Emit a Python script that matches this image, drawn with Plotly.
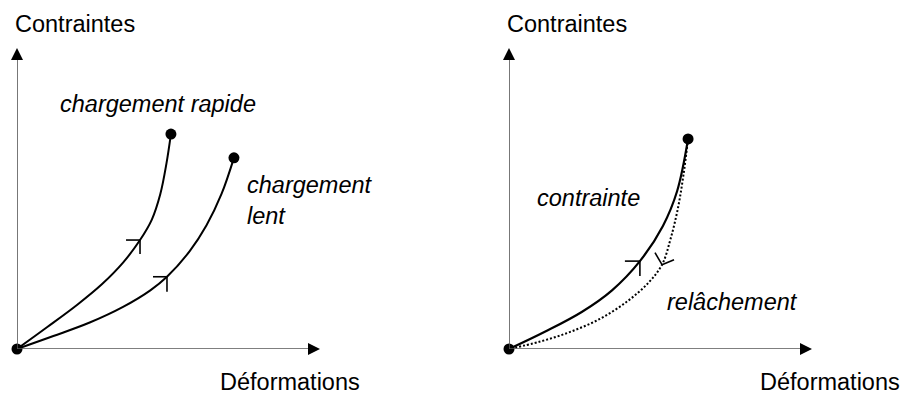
import plotly.graph_objects as go

# ---- data (deformation, stress) in arbitrary units, axes run 0..100 ----
# left panel: fast vs slow loading
rapide_def = [0, 10, 20, 28, 35, 40.6, 44.5, 47.3, 49.3, 50.8]
rapide_con = [0, 7.3, 14.8, 21.5, 28.7, 36.2, 43.0, 51.5, 61.5, 71.4]

lent_def = [0, 12, 24, 35, 44, 49.5, 57, 62.5, 67.5, 71.6]
lent_con = [0, 4.3, 8.8, 14.0, 19.5, 24.0, 32.5, 41.0, 51.5, 63.5]

# right panel: loading then relaxation back to the origin
charge_def = [0, 12, 24, 34, 43.2, 50.8, 55.5, 59.1]
charge_con = [0, 5.8, 12.3, 19.5, 29.2, 40.9, 52.5, 69.8]

relache_def = [59.1, 57.6, 55.8, 53.3, 50.5, 46, 39, 30, 20, 10, 0]
relache_con = [69.8, 58.0, 47.0, 36.5, 28.0, 22.0, 15.8, 10.0, 5.6, 2.4, 0]

# index of the curve point carrying the direction arrow
idx_rapide, idx_lent, idx_charge, idx_relache = 5, 5, 4, 4

W, H = 904, 399
FONT = "Liberation Sans, Arial, sans-serif"
FS = 23.5

# panel geometry (pixels)
Y0, YTOP = 349, 48
LEFT0, RIGHT0, XLEN = 17, 509, 303
SX = XLEN / 100.0          # px per unit, x
SY = (Y0 - YTOP) / 100.0   # px per unit, y

fig = go.Figure()

def curve(x, y, xa, ya, dash="solid", width=2.0):
    fig.add_trace(go.Scatter(x=x, y=y, mode="lines", xaxis=xa, yaxis=ya,
                             line=dict(color="black", width=width, dash=dash,
                                       shape="spline", smoothing=1.0),
                             cliponaxis=False, hoverinfo="skip"))

def barbs(x0, y0, offsets, xa, ya):
    # open arrowhead: two short strokes from the tip, offsets in pixels
    for (dx, dy) in offsets:
        fig.add_trace(go.Scatter(x=[x0, x0 + dx / SX], y=[y0, y0 - dy / SY],
                                 mode="lines", xaxis=xa, yaxis=ya,
                                 line=dict(color="black", width=1.6),
                                 cliponaxis=False, hoverinfo="skip"))

def dots(x, y, xa, ya):
    fig.add_trace(go.Scatter(x=x, y=y, mode="markers", xaxis=xa, yaxis=ya,
                             marker=dict(color="black", size=11),
                             cliponaxis=False, hoverinfo="skip"))

# left panel curves
curve(rapide_def, rapide_con, "x", "y")
curve(lent_def, lent_con, "x", "y")
barbs(rapide_def[idx_rapide], rapide_con[idx_rapide], [(-14, 0), (0, 14)], "x", "y")
barbs(lent_def[idx_lent], lent_con[idx_lent], [(-14, 0), (0, 15)], "x", "y")
dots([0, rapide_def[-1], lent_def[-1]], [0, rapide_con[-1], lent_con[-1]], "x", "y")

# right panel curves
curve(charge_def, charge_con, "x2", "y2", width=2.2)
curve(relache_def, relache_con, "x2", "y2", dash="2px,2px", width=2.0)
barbs(charge_def[idx_charge], charge_con[idx_charge], [(-15, 0), (0, 15)], "x2", "y2")
barbs(relache_def[idx_relache], relache_con[idx_relache],
      [(-7, -12), (12, -5)], "x2", "y2")
dots([0, charge_def[-1]], [0, charge_con[-1]], "x2", "y2")

# axes with arrowheads
for xa, ya in (("x", "y"), ("x2", "y2")):
    fig.add_shape(type="line", xref=xa, yref=ya, x0=0, y0=0, x1=97, y1=0,
                  line=dict(color="#555555", width=1.6))
    fig.add_shape(type="line", xref=xa, yref=ya, x0=0, y0=0, x1=0, y1=97,
                  line=dict(color="#555555", width=1.6))
    fig.add_annotation(x=100, y=0, xref=xa, yref=ya, ax=-6, ay=0, text="",
                       showarrow=True, arrowhead=2, arrowsize=1.6,
                       arrowwidth=1.5, arrowcolor="black", standoff=0)
    fig.add_annotation(x=0, y=100, xref=xa, yref=ya, ax=0, ay=6, text="",
                       showarrow=True, arrowhead=2, arrowsize=1.6,
                       arrowwidth=1.5, arrowcolor="black", standoff=0)

def label(text, x, y, xref, yref, italic=False):
    fig.add_annotation(x=x, y=y, xref=xref, yref=yref, text=text, showarrow=False,
                       xanchor="left", yanchor="middle", align="left",
                       font=dict(family=FONT, size=FS, color="black",
                                 style="italic" if italic else "normal"))

# axis titles (paper coordinates, outside the plotting areas)
for px in (13, 505):
    label("Contraintes", px / W, (H - 24) / H, "paper", "paper")
for px in (218, 758):
    label("Déformations", px / W, (H - 382) / H, "paper", "paper")

# curve labels
label("chargement rapide", 13.5, 81.4, "x", "y", italic=True)
label("chargement<br>lent", 75.2, 49.2, "x", "y", italic=True)
label("contrainte", 8.6, 50.2, "x2", "y2", italic=True)
label("relâchement", 51.5, 15.6, "x2", "y2", italic=True)

ax_common = dict(range=[0, 100], visible=False, fixedrange=True)
ybot = (H - Y0) / H
ytop = (H - YTOP) / H
fig.update_layout(
    width=W, height=H,
    margin=dict(l=0, r=0, t=0, b=0),
    paper_bgcolor="white", plot_bgcolor="white",
    showlegend=False,
    xaxis=dict(domain=[LEFT0 / W, (LEFT0 + XLEN) / W], **ax_common),
    yaxis=dict(domain=[ybot, ytop], **ax_common),
    xaxis2=dict(domain=[RIGHT0 / W, (RIGHT0 + XLEN) / W], anchor="y2", **ax_common),
    yaxis2=dict(domain=[ybot, ytop], anchor="x2", **ax_common),
)

fig.write_html("out.html", config={"displayModeBar": False})
